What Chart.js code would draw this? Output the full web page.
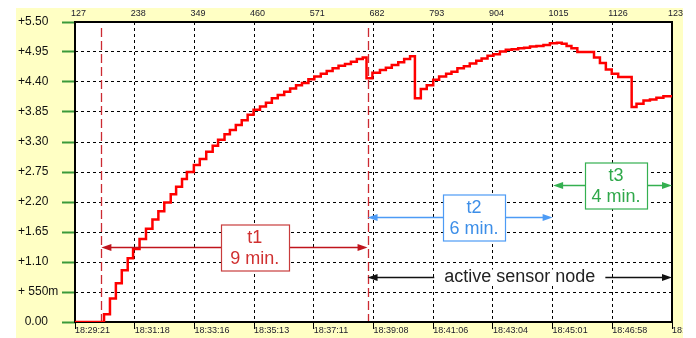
<!DOCTYPE html>
<html><head><meta charset="utf-8">
<style>html,body{margin:0;padding:0;background:#fff;overflow:hidden}
#wrap{position:absolute;left:0;top:0;width:683px;height:338px}</style>
<script src="https://cdn.jsdelivr.net/npm/chart.js@4/dist/chart.umd.min.js"></script>
</head><body><div id="wrap"><canvas id="c" width="683" height="338"></canvas></div>
<script>
// ---- data ----
const sampleIdx = [127,181,192,203,214,225,235,247,259,271,282,293,305,315,326,335,348,359,371,383,393,405,415,426,437,448,459,471,482,493,504,516,527,538,549,561,572,584,595,606,617,629,640,651,662,669,680,694,705,716,728,739,750,759,770,781,793,804,817,827,838,850,861,873,883,894,905,917,928,939,951,962,973,985,998,1010,1023,1032,1041,1050,1061,1092,1103,1114,1125,1137,1162,1171,1184,1196,1208,1221,1237];
const voltage = [0,0.14,0.43,0.71,0.95,1.17,1.34,1.52,1.71,1.88,2.03,2.19,2.34,2.48,2.62,2.75,2.88,2.99,3.12,3.23,3.34,3.44,3.52,3.61,3.70,3.80,3.89,3.95,4.02,4.10,4.16,4.22,4.28,4.34,4.38,4.45,4.50,4.55,4.60,4.65,4.70,4.73,4.77,4.82,4.85,4.47,4.57,4.62,4.66,4.71,4.76,4.82,4.87,4.10,4.27,4.34,4.44,4.50,4.55,4.59,4.65,4.69,4.74,4.79,4.83,4.88,4.91,4.96,4.99,5.00,5.02,5.03,5.05,5.06,5.08,5.11,5.12,5.10,5.06,5.02,4.95,4.85,4.75,4.63,4.55,4.49,3.94,4.00,4.06,4.08,4.11,4.14,4.14];
const xTickValues = [127,238,349,460,571,682,793,904,1015,1126,1237];
const topTickLabels = ['127','238','349','460','571','682','793','904','1015','1126','1237'];
const timeTickLabels = ['18:29:21','18:31:18','18:33:16','18:35:13','18:37:11','18:39:08','18:41:06','18:43:04','18:45:01','18:46:58','18:48:56'];
const yTickValues = [0,0.55,1.1,1.65,2.2,2.75,3.3,3.85,4.4,4.95,5.5];
const yTickLabels = ['  0.00','+ 550m','+1.10','+1.65','+2.20','+2.75','+3.30','+3.85','+4.40','+4.95','+5.50'];
const markerSamples = [176, 671];
const spanLabels = [['t1','9 min.'],['t2','6 min.'],['t3','4 min.']];
const spanFrom = [176, 671, 1016];
const spanTo = [671, 1015, 1237];
const spanLevel = [1.366, 1.925, 2.512];
const spanBoxCenter = [461, 869, 1133];
const activeFrom = 671, activeTo = 1237, activeLevel = 0.825;
const activeText = 'active sensor node';

// ---- styles ----
const spanStyle = [
  {line:'#c0141c', border:'#c83c3c', text:'#d03030', w:68},
  {line:'#4d9bf5', border:'#4d9bf5', text:'#3c8ee8', w:62},
  {line:'#34b050', border:'#34b050', text:'#2fa84a', w:62}
];
const FONT = '"Liberation Sans", Arial, sans-serif';
const NARROW = '"Liberation Sans Narrow", "Arial Narrow", "Liberation Sans", Arial, sans-serif';

function arrowHead(ctx, x, y, dir, color){
  ctx.fillStyle = color;
  ctx.beginPath();
  ctx.moveTo(x, y);
  ctx.lineTo(x - dir*10, y - 3.5);
  ctx.lineTo(x - dir*10, y + 3.5);
  ctx.closePath();
  ctx.fill();
}
function hArrow(ctx, x1, x2, y, color){
  ctx.strokeStyle = color; ctx.lineWidth = 1.7; ctx.setLineDash([]);
  ctx.beginPath(); ctx.moveTo(x1 + 8, y); ctx.lineTo(x2 - 8, y); ctx.stroke();
  arrowHead(ctx, x1, y, -1, color);
  arrowHead(ctx, x2, y, 1, color);
}

const decor = {
  id: 'decor',
  beforeDraw(chart){
    const ctx = chart.ctx, a = chart.chartArea;
    ctx.save();
    ctx.fillStyle = '#ffffc4';
    ctx.fillRect(16, 8, chart.width - 16, chart.height - 8);
    ctx.fillStyle = '#ffffff';
    ctx.fillRect(a.left, a.top, a.right - a.left, a.bottom - a.top);
    ctx.restore();
  },
  beforeDatasetsDraw(chart){
    const ctx = chart.ctx, a = chart.chartArea, xs = chart.scales.x, ys = chart.scales.y;
    ctx.save();
    ctx.strokeStyle = '#cc2a32'; ctx.lineWidth = 1.3; ctx.setLineDash([9,4]);
    markerSamples.forEach(s => {
      const px = Math.round(xs.getPixelForValue(s)) + 0.5;
      ctx.beginPath(); ctx.moveTo(px, ys.getPixelForValue(5.39)); ctx.lineTo(px, a.bottom); ctx.stroke();
    });
    ctx.setLineDash([]);
    ctx.strokeStyle = '#000'; ctx.lineWidth = 2;
    ctx.strokeRect(a.left, a.top, a.right - a.left, a.bottom - a.top);
    ctx.restore();
  },
  afterDatasetsDraw(chart){
    const ctx = chart.ctx, xs = chart.scales.x, ys = chart.scales.y;
    ctx.save();
    ctx.textAlign = 'center'; ctx.textBaseline = 'middle';
    spanLabels.forEach((lines, i) => {
      const st = spanStyle[i];
      const x1 = xs.getPixelForValue(spanFrom[i]), x2 = xs.getPixelForValue(spanTo[i]);
      const y = Math.round(ys.getPixelForValue(spanLevel[i])) + 0.5;
      hArrow(ctx, x1, x2, y, st.line);
      const cx = xs.getPixelForValue(spanBoxCenter[i]);
      const bw = st.w, bh = 46;
      const bx = Math.round(cx - bw/2) + 0.5, by = Math.round(y - bh/2);
      ctx.fillStyle = '#fff'; ctx.fillRect(bx, by, bw, bh);
      ctx.strokeStyle = st.border; ctx.lineWidth = 1.2; ctx.strokeRect(bx, by, bw, bh);
      ctx.fillStyle = st.text; ctx.font = '18px ' + FONT;
      ctx.fillText(lines[0], cx, by + 13.5);
      ctx.fillText(lines[1], cx, by + 34);
    });
    const ax1 = xs.getPixelForValue(activeFrom), ax2 = xs.getPixelForValue(activeTo);
    const ay = Math.round(ys.getPixelForValue(activeLevel)) + 0.5;
    hArrow(ctx, ax1, ax2, ay, '#111');
    ctx.font = '18px ' + FONT;
    const tw = ctx.measureText(activeText).width;
    const mx = (ax1 + ax2) / 2;
    ctx.fillStyle = '#fff'; ctx.fillRect(mx - tw/2 - 10, ay - 8, tw + 20, 16);
    ctx.fillStyle = '#222'; ctx.fillText(activeText, mx, ay);
    ctx.restore();
  }
};

const points = sampleIdx.map((s, i) => ({x: s, y: voltage[i]}));

new Chart(document.getElementById('c'), {
  type: 'line',
  data: { datasets: [{
    data: points, borderColor: '#ff0000', borderWidth: 2.5, pointRadius: 0,
    stepped: 'before', fill: false, tension: 0
  }]},
  options: {
    responsive: false, animation: false, devicePixelRatio: 1,
    layout: { padding: {left: 18, top: 0, right: 11, bottom: 0} },
    plugins: { legend: {display: false}, tooltip: {enabled: false} },
    scales: {
      x: {
        type: 'linear', position: 'bottom', min: 127, max: 1237,
        afterBuildTicks: s => { s.ticks = xTickValues.map(v => ({value: v})); },
        afterFit: s => { s.height = 16; s.paddingLeft = 0; s.paddingRight = 0; },
        ticks: {
          autoSkip: false, maxRotation: 0, minRotation: 0, align: 'start', padding: -3, labelOffset: 0,
          color: '#1a1a2a', font: {family: NARROW, size: 9, lineHeight: 1},
          callback: (v, i) => timeTickLabels[i]
        },
        grid: { color: '#000', lineWidth: 1, drawTicks: true, tickLength: 7, tickColor: '#000', tickWidth: 1, tickBorderDash: [] },
        border: { display: false, dash: [3,3] }
      },
      x2: {
        type: 'linear', position: 'top', min: 127, max: 1237,
        afterBuildTicks: s => { s.ticks = xTickValues.map(v => ({value: v})); },
        afterFit: s => { s.height = 22; s.paddingLeft = 0; s.paddingRight = 0; },
        ticks: {
          autoSkip: false, maxRotation: 0, minRotation: 0, align: 'start', padding: 3.5, labelOffset: -4,
          color: '#1a1a2a', font: {family: NARROW, size: 9, lineHeight: 1},
          callback: (v, i) => topTickLabels[i]
        },
        grid: { display: false, drawTicks: false },
        border: { display: false }
      },
      y: {
        type: 'linear', position: 'left', min: 0, max: 5.5,
        afterBuildTicks: s => { s.ticks = yTickValues.map(v => ({value: v})); },
        afterFit: s => { s.width = 57; s.paddingTop = 0; s.paddingBottom = 0; },
        ticks: {
          crossAlign: 'far', padding: 0, color: '#111',
          font: {family: FONT, size: 12, lineHeight: 1},
          callback: (v, i) => yTickLabels[i]
        },
        grid: { color: '#000', lineWidth: 1, drawTicks: true, tickLength: 13, tickColor: '#3a9a3a', tickWidth: 2, tickBorderDash: [] },
        border: { display: false, dash: [3,3] }
      }
    }
  },
  plugins: [decor]
});
</script></body></html>
